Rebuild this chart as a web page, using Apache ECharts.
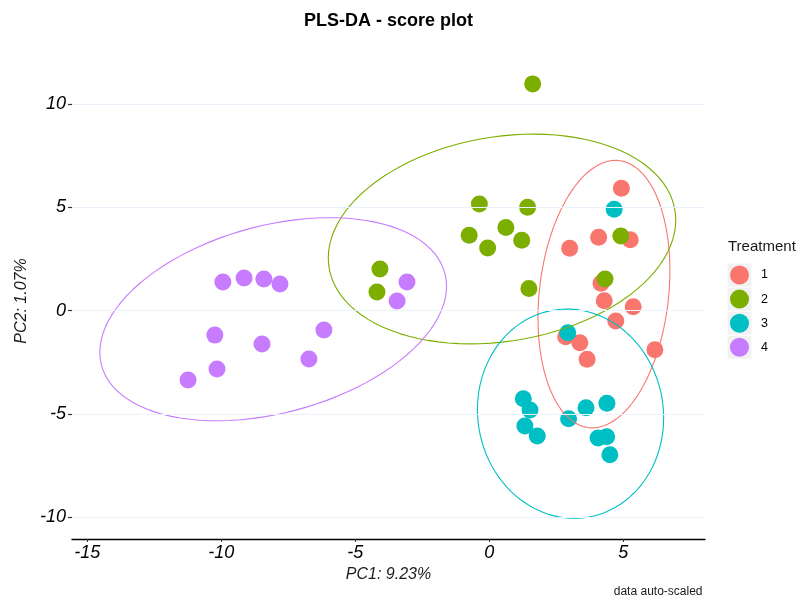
<!DOCTYPE html>
<html>
<head>
<meta charset="utf-8">
<title>PLS-DA - score plot</title>
<script src="https://cdn.jsdelivr.net/npm/echarts@6/dist/echarts.min.js"></script>
<style>
  html, body { margin: 0; padding: 0; background: #ffffff; }
  #chart { width: 799px; height: 599px; }
</style>
</head>
<body>
<div id="chart"></div>
<script>
// Component scores per treatment group (PC1 / PC2)
const treatments = ['1', '2', '3', '4'];
const groupColors = ['#F8766D', '#7CAE00', '#00BFC4', '#C77CFF'];

const pc1Treat1 = [4.93, 4.08, 5.26, 3.00, 4.17, 4.29, 5.37, 4.72, 2.85, 3.38, 3.65, 6.18];
const pc2Treat1 = [5.92, 3.55, 3.43, 3.02, 1.33, 0.48, 0.19, -0.50, -1.26, -1.55, -2.35, -1.89];

const pc1Treat2 = [1.62, -0.37, 1.43, -0.75, 0.62, -0.06, 1.21, 4.91, 4.32, 1.48, -4.08, -4.19];
const pc2Treat2 = [10.97, 5.16, 5.00, 3.65, 4.02, 3.03, 3.41, 3.61, 1.53, 1.08, 2.02, 0.90];

const pc1Treat3 = [4.66, 2.93, 1.27, 1.52, 1.33, 1.79, 2.96, 3.61, 4.39, 4.06, 4.38, 4.50];
const pc2Treat3 = [4.91, -1.06, -4.26, -4.80, -5.58, -6.06, -5.22, -4.69, -4.48, -6.16, -6.10, -6.97];

const pc1Treat4 = [-11.24, -10.16, -10.24, -9.94, -9.15, -8.41, -7.81, -8.48, -6.73, -6.17, -3.44, -3.07];
const pc2Treat4 = [-3.35, -2.82, -1.18, 1.39, 1.58, 1.53, 1.29, -1.61, -2.34, -0.93, 0.47, 1.39];

const xTicks = [-15, -10, -5, 0, 5];
const yTicks = [-10, -5, 0, 5, 10];

const pc1ByGroup = [pc1Treat1, pc1Treat2, pc1Treat3, pc1Treat4];
const pc2ByGroup = [pc2Treat1, pc2Treat2, pc2Treat3, pc2Treat4];

// Robust multivariate t location/scatter (same iteration as MASS::cov.trob, nu = 5)
function covTrob(xs, ys) {
  const n = xs.length, nu = 5, p = 2;
  let loc = [xs.reduce((a, b) => a + b, 0) / n, ys.reduce((a, b) => a + b, 0) / n];
  let w = new Array(n).fill(1);
  let X = [];
  for (let iter = 0; iter < 25; iter++) {
    const w0 = w.slice();
    X = xs.map((x, i) => [x - loc[0], ys[i] - loc[1]]);
    const sw = w.reduce((a, b) => a + b, 0);
    let a = 0, b = 0, c = 0;
    X.forEach((v, i) => {
      const k = w[i] / sw;
      a += k * v[0] * v[0]; b += k * v[0] * v[1]; c += k * v[1] * v[1];
    });
    const det = a * c - b * b;
    w = X.map(v => (nu + p) / (nu + (c * v[0] * v[0] - 2 * b * v[0] * v[1] + a * v[1] * v[1]) / det));
    const sw2 = w.reduce((s, t) => s + t, 0);
    loc = [xs.reduce((s, x, i) => s + w[i] * x, 0) / sw2, ys.reduce((s, y, i) => s + w[i] * y, 0) / sw2];
    if (w.every((t, i) => Math.abs(t - w0[i]) < 0.01)) break;
  }
  let a = 0, b = 0, c = 0;
  X.forEach((v, i) => { a += w[i] * v[0] * v[0]; b += w[i] * v[0] * v[1]; c += w[i] * v[1] * v[1]; });
  return { center: loc, cov: [a / n, b / n, c / n] };
}

// 95% confidence ellipse (t-based) traced through the group's robust covariance
function confidenceEllipse(xs, ys, level, segments) {
  const n = xs.length;
  const fit = covTrob(xs, ys);
  const d2 = n - 1;
  const qf = d2 / 2 * (Math.pow(1 - level, -2 / d2) - 1); // F quantile, 2 numerator df
  const radius = Math.sqrt(2 * qf);
  const r11 = Math.sqrt(fit.cov[0]);
  const r12 = fit.cov[1] / r11;
  const r22 = Math.sqrt(fit.cov[2] - r12 * r12);
  const path = [];
  for (let s = 0; s <= segments; s++) {
    const t = 2 * Math.PI * s / segments;
    const u = Math.cos(t), v = Math.sin(t);
    path.push([fit.center[0] + radius * u * r11, fit.center[1] + radius * (u * r12 + v * r22)]);
  }
  return path;
}

const axisFont = 'Liberation Sans, Arial, Helvetica, sans-serif';

const series = [];
treatments.forEach((name, g) => {
  series.push({
    name: name,
    type: 'scatter',
    data: pc1ByGroup[g].map((x, i) => [x, pc2ByGroup[g][i]]),
    symbol: 'circle',
    symbolSize: 17,
    itemStyle: { color: groupColors[g], opacity: 1 },
    z: 3,
    silent: true
  });
});
treatments.forEach((name, g) => {
  series.push({
    name: 'ellipse ' + name,
    type: 'line',
    data: confidenceEllipse(pc1ByGroup[g], pc2ByGroup[g], 0.95, 100),
    showSymbol: false,
    symbol: 'none',
    smooth: false,
    lineStyle: { color: groupColors[g], width: 1.1 },
    z: 4,
    silent: true
  });
});
// horizontal reference grid at the PC2 ticks
series.push({
  name: 'grid',
  type: 'line',
  data: [],
  silent: true,
  z: 1,
  markLine: {
    silent: true,
    symbol: 'none',
    label: { show: false },
    lineStyle: { color: '#EAF3FB', width: 1.2, type: 'solid' },
    data: yTicks.map(v => ({ yAxis: v }))
  }
});

const chart = echarts.init(document.getElementById('chart'), null, { renderer: 'canvas' });
chart.setOption({
  animation: false,
  backgroundColor: '#ffffff',
  grid: { left: 72, right: 94, top: 63, bottom: 60, containLabel: false },
  xAxis: {
    type: 'value',
    min: -15.57,
    max: 8.05,
    name: 'PC1: 9.23%',
    nameLocation: 'middle',
    nameGap: 27,
    nameTextStyle: { fontFamily: axisFont, fontStyle: 'italic', fontSize: 16, color: '#1a1a1a' },
    axisLine: { show: true, onZero: false, lineStyle: { color: '#000000', width: 1.4 } },
    axisTick: { show: true, length: 3, lineStyle: { color: '#333333' }, customValues: xTicks },
    axisLabel: { fontFamily: axisFont, fontStyle: 'italic', fontSize: 18, color: '#000000', margin: 5, customValues: xTicks },
    splitLine: { show: false }
  },
  yAxis: {
    type: 'value',
    min: -11.04,
    max: 11.98,
    name: 'PC2: 1.07%',
    nameLocation: 'middle',
    nameGap: 40,
    nameRotate: 90,
    nameTextStyle: { fontFamily: axisFont, fontStyle: 'italic', fontSize: 16, color: '#1a1a1a' },
    axisLine: { show: true, onZero: false, lineStyle: { color: 'rgba(0,0,0,0)', width: 0 } },
    axisTick: { show: true, length: 4, lineStyle: { color: '#333333', width: 1.2 }, customValues: yTicks },
    axisLabel: { fontFamily: axisFont, fontStyle: 'italic', fontSize: 18, color: '#000000', margin: 6, customValues: yTicks },
    splitLine: { show: false }
  },
  legend: {
    data: treatments,
    orient: 'vertical',
    left: 730,
    top: 265.5,
    padding: 0,
    itemWidth: 19,
    itemHeight: 19,
    itemGap: 5.1,
    icon: 'circle',
    selectedMode: false,
    textStyle: { fontFamily: axisFont, fontSize: 12.5, color: '#000000', padding: [0, 0, 0, 7] }
  },
  graphic: [
    {
      type: 'text', x: 388.5, y: 21, silent: true,
      style: { text: 'PLS-DA - score plot', font: 'bold 18px ' + axisFont, fill: '#000000', textAlign: 'center', textVerticalAlign: 'middle' }
    },
    {
      type: 'text', x: 728, y: 247, silent: true,
      style: { text: 'Treatment', font: '15px ' + axisFont, fill: '#1a1a1a', textAlign: 'left', textVerticalAlign: 'middle' }
    },
    {
      type: 'text', x: 702.5, y: 592, silent: true,
      style: { text: 'data auto-scaled', font: '12px ' + axisFont, fill: '#1a1a1a', textAlign: 'right', textVerticalAlign: 'middle' }
    },
    { type: 'rect', shape: { x: 727.5, y: 263.5, width: 24, height: 23 }, style: { fill: '#F2F2F2' }, z: -1, silent: true },
    { type: 'rect', shape: { x: 727.5, y: 287.6, width: 24, height: 23 }, style: { fill: '#F2F2F2' }, z: -1, silent: true },
    { type: 'rect', shape: { x: 727.5, y: 311.7, width: 24, height: 23 }, style: { fill: '#F2F2F2' }, z: -1, silent: true },
    { type: 'rect', shape: { x: 727.5, y: 335.8, width: 24, height: 23 }, style: { fill: '#F2F2F2' }, z: -1, silent: true }
  ],
  series: series
});
</script>
</body>
</html>
